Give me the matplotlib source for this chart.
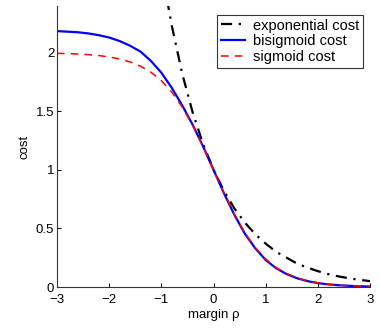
import matplotlib
matplotlib.use("Agg")
import matplotlib.pyplot as plt

plt.rcParams["font.family"] = ["Liberation Sans", "DejaVu Sans"]

# margin values (step 0.2)
rho = [-3.0, -2.8, -2.6, -2.4, -2.2, -2.0, -1.8, -1.6, -1.4, -1.2, -1.0,
       -0.8, -0.6, -0.4, -0.2, 0.0, 0.2, 0.4, 0.6, 0.8, 1.0,
       1.2, 1.4, 1.6, 1.8, 2.0, 2.2, 2.4, 2.6, 2.8, 3.0]

bisigmoid = [2.185, 2.18, 2.175, 2.165, 2.15, 2.13, 2.10, 2.06, 2.01, 1.93, 1.83,
             1.70, 1.55, 1.385, 1.20, 1.0, 0.80, 0.615, 0.455, 0.33, 0.23,
             0.16, 0.11, 0.075, 0.05, 0.033, 0.022, 0.015, 0.01, 0.006, 0.004]

sigmoid = [1.995, 1.993, 1.989, 1.984, 1.976, 1.964, 1.947, 1.922, 1.885, 1.834, 1.762,
           1.664, 1.537, 1.380, 1.197, 1.0, 0.803, 0.620, 0.463, 0.336, 0.238,
           0.166, 0.115, 0.078, 0.053, 0.036, 0.024, 0.016, 0.011, 0.007, 0.005]

# exponential cost only visible from about rho = -0.9
rho_exp = [-1.0, -0.8, -0.6, -0.4, -0.2, 0.0, 0.2, 0.4, 0.6, 0.8, 1.0,
           1.2, 1.4, 1.6, 1.8, 2.0, 2.2, 2.4, 2.6, 2.8, 3.0]
exponential = [2.72, 2.23, 1.82, 1.49, 1.22, 1.0, 0.82, 0.67, 0.55, 0.45, 0.37,
               0.30, 0.25, 0.20, 0.165, 0.135, 0.11, 0.09, 0.074, 0.061, 0.05]

fig = plt.figure(figsize=(3.8, 3.28), dpi=100)
ax = fig.add_axes([0.15, 0.125, 0.824, 0.857])

ax.plot(rho_exp, exponential, color="k", linestyle="-.", linewidth=1.6,
        dashes=(5, 3, 1, 3), label="exponential cost")
ax.plot(rho, bisigmoid, color="b", linewidth=1.6, label="bisigmoid cost")
ax.plot(rho, sigmoid, color="r", linestyle="--", linewidth=1.1,
        dashes=(5, 4), label="sigmoid cost")

ax.set_xlim(-3, 3)
ax.set_ylim(0, 2.4)
ax.set_xticks([-3, -2, -1, 0, 1, 2, 3])
ax.set_xticklabels(["\u22123", "\u22122", "\u22121", "0", "1", "2", "3"])
ax.set_yticks([0, 0.5, 1, 1.5, 2])
ax.set_yticklabels(["0", "0.5", "1", "1.5", "2"])
ax.tick_params(direction="in", length=3, labelsize=9.5, pad=2, width=0.7)
ax.tick_params(axis="x", pad=5)
ax.spines["top"].set_visible(False)
ax.spines["right"].set_visible(False)
for s in ("left", "bottom"):
    ax.spines[s].set_linewidth(0.8)
    ax.spines[s].set_color("#333333")

ax.set_xlabel("margin \u03c1", fontsize=9.5, labelpad=2)
ax.set_ylabel("cost", fontsize=9.5, labelpad=4)

leg = ax.legend(loc="upper right", bbox_to_anchor=(0.978, 0.968), fontsize=10.5,
                frameon=True, fancybox=False, handlelength=1.65, handletextpad=0.6,
                borderpad=0.25, labelspacing=0.12, borderaxespad=0.0)
leg.get_frame().set_edgecolor("k")
leg.get_frame().set_linewidth(0.8)

fig.savefig("out.png", dpi=100)
